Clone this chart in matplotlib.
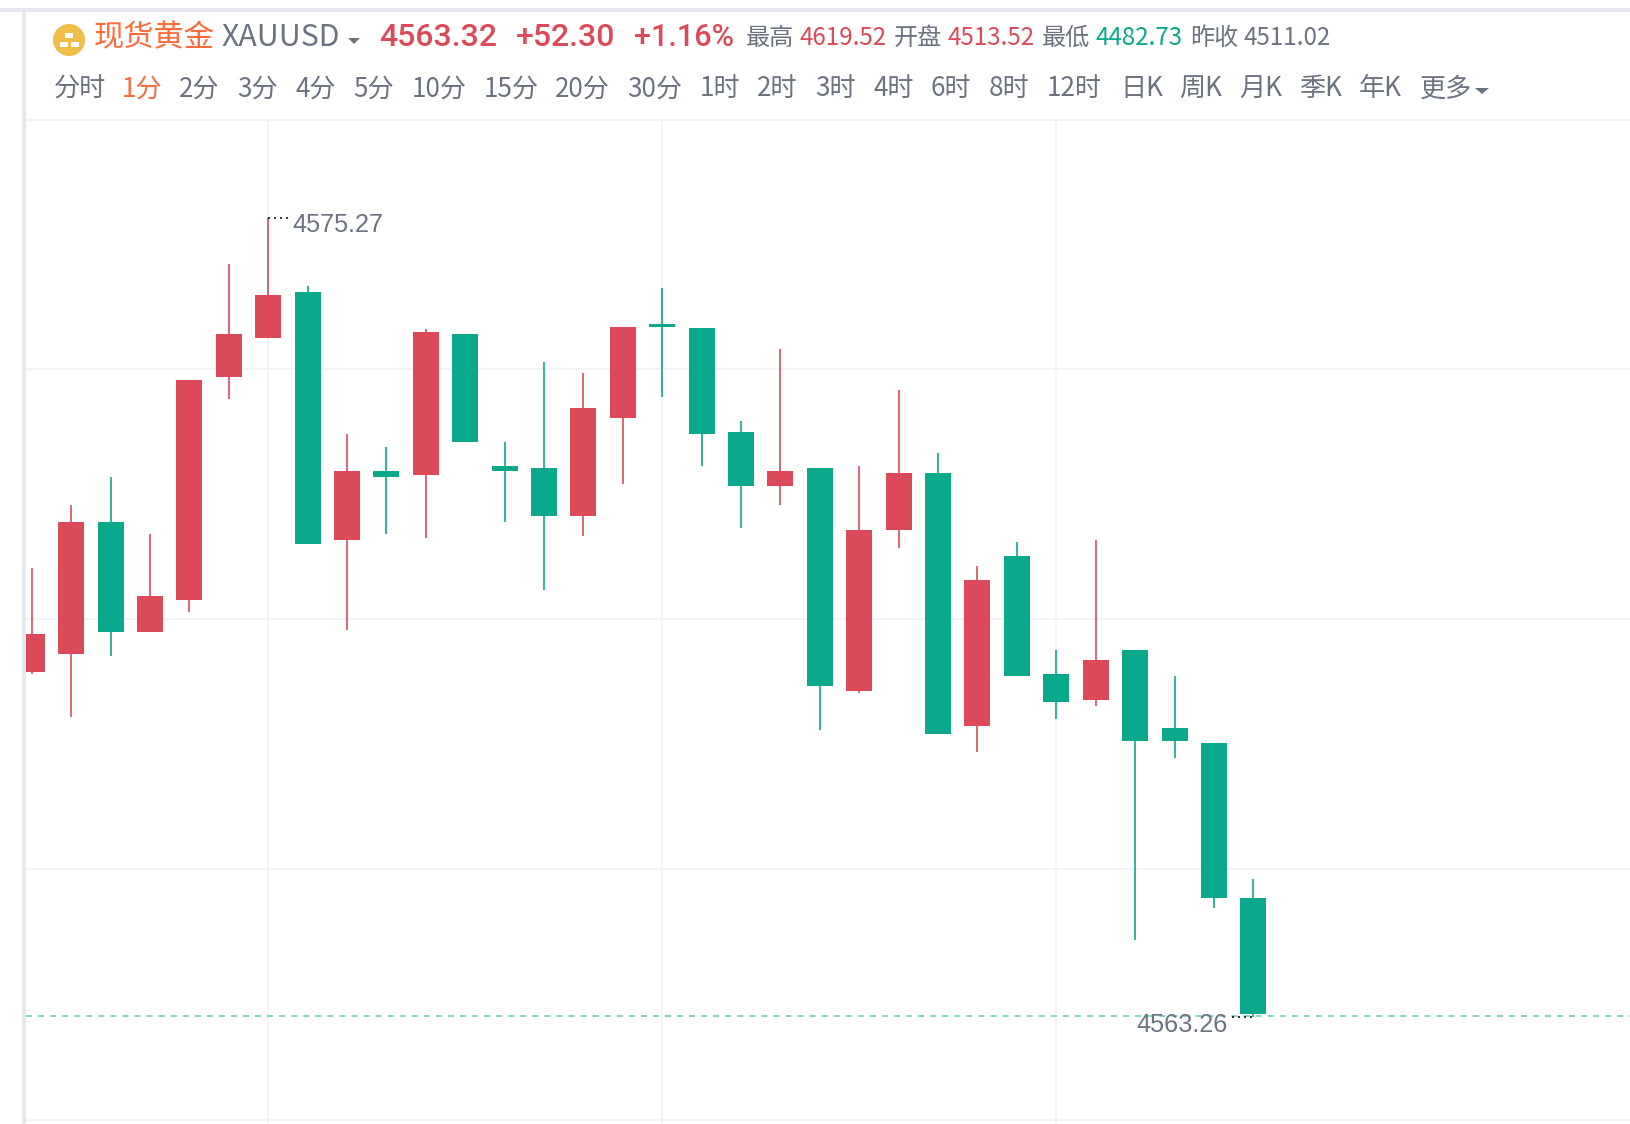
import matplotlib
matplotlib.use("Agg")
import matplotlib.pyplot as plt
from matplotlib.patches import Circle, Rectangle, Polygon

W, H = 1630, 1124
RED = "#DC4A5A"
GREEN = "#0AA98C"
GRAY = "#6B7280"
ORANGE = "#FF6B3B"
GRID = "#F2F3F7"
CJK = ["Noto Sans CJK SC", "DejaVu Sans"]
NUM = ["Roboto", "Liberation Sans", "DejaVu Sans"]

# candle data (prices)
opens = [4568.44, 4568.71, 4570.69, 4569.04, 4569.52, 4572.87, 4573.46, 4574.15,
         4570.43, 4571.47, 4571.41, 4573.52, 4571.54, 4571.51, 4570.79, 4572.26,
         4573.68, 4573.61, 4572.05, 4571.24, 4571.51, 4568.16, 4570.57, 4571.44,
         4567.63, 4570.18, 4568.41, 4568.02, 4568.77, 4567.60, 4567.38, 4565.04]
closes = [4569.01, 4570.69, 4569.04, 4569.59, 4572.83, 4573.52, 4574.11, 4570.37,
          4571.47, 4571.38, 4573.55, 4571.90, 4571.47, 4570.79, 4572.41, 4573.63,
          4573.63, 4572.02, 4571.24, 4571.47, 4568.23, 4570.57, 4571.44, 4567.51,
          4569.82, 4568.38, 4567.99, 4568.62, 4567.41, 4567.41, 4565.04, 4563.31]
highs = [4570.01, 4570.96, 4571.38, 4570.51, 4572.83, 4574.57, 4575.27, 4574.24,
         4572.02, 4571.83, 4573.60, 4573.52, 4571.90, 4573.10, 4572.94, 4573.63,
         4574.21, 4573.61, 4572.22, 4573.29, 4571.51, 4571.54, 4572.68, 4571.74,
         4570.04, 4570.40, 4568.77, 4570.43, 4568.77, 4568.38, 4567.38, 4565.34]
lows = [4568.41, 4567.76, 4568.68, 4569.04, 4569.35, 4572.55, 4573.46, 4570.37,
        4569.07, 4570.51, 4570.46, 4571.90, 4570.69, 4569.68, 4570.48, 4571.27,
        4572.58, 4571.54, 4570.60, 4570.96, 4567.57, 4568.13, 4570.30, 4567.51,
        4567.24, 4568.38, 4567.73, 4567.93, 4564.42, 4567.15, 4564.90, 4563.26]
last_price = 4563.28
high_label = "4575.27"
low_label = "4563.26"
grid_prices = [4572.99, 4569.24, 4565.49, 4561.71]
grid_candles = [6, 16, 26]

# header texts
name_cn = "现货黄金"
symbol = "XAUUSD"
quote_texts = ["4563.32", "+52.30", "+1.16%"]
stat_labels = ["最高", "开盘", "最低", "昨收"]
stat_values = ["4619.52", "4513.52", "4482.73", "4511.02"]
stat_colors = [RED, RED, GREEN, GRAY]
periods = ["分时", "1分", "2分", "3分", "4分", "5分", "10分", "15分", "20分", "30分",
           "1时", "2时", "3时", "4时", "6时", "8时", "12时", "日K", "周K", "月K",
           "季K", "年K", "更多"]
active_period = "1分"

# header layout, in pixels of the output image
quote_x = [379, 516, 634]
quote_sizes = [23, 23, 22]
stat_label_x = [746, 894, 1042, 1190]
stat_value_x = [799, 947, 1095, 1243]
period_x = [54, 122, 179, 237, 295, 353, 412, 484, 555, 627, 700, 757, 815, 873,
            931, 989, 1047, 1120, 1179, 1239, 1299, 1359, 1420]

fig = plt.figure(figsize=(W / 100, H / 100), dpi=100, facecolor="white")

# chart area
top_px, left_px = 120, 26
ax = fig.add_axes([left_px / W, 0, 1 - left_px / W, 1 - top_px / H])
ax.set_xlim(-0.148, 40.56)
ax.set_ylim(4561.651, 4576.738)
for s in ax.spines.values():
    s.set_visible(False)
ax.set_xticks(grid_candles)
ax.set_yticks(grid_prices)
ax.tick_params(length=0, labelbottom=False, labelleft=False)
ax.grid(True, color=GRID, lw=1.3)
ax.set_axisbelow(True)

xs = list(range(len(opens)))
colors = [RED if c >= o else GREEN for o, c in zip(opens, closes)]
ax.vlines(xs, lows, highs, colors=colors, lw=1.2, zorder=2)
ax.bar(xs, [abs(c - o) for o, c in zip(opens, closes)],
       bottom=[min(o, c) for o, c in zip(opens, closes)],
       width=0.66, color=colors, lw=0, zorder=3)

ax.axhline(last_price, color="#7FD5C2", lw=1.4, dashes=(3.1, 3.1), zorder=4)

# extreme markers
hi_i = highs.index(max(highs))
lo_i = lows.index(min(lows))
ax.plot([hi_i, hi_i + 0.52], [highs[hi_i]] * 2, color="#111111", lw=1.2,
        dashes=(1.2, 2.4), zorder=4)
ax.plot([lo_i - 0.55, lo_i], [lows[lo_i]] * 2, color="#111111", lw=1.2,
        dashes=(1.2, 2.4), zorder=4)
ax.annotate(high_label, (hi_i + 0.6, highs[hi_i]), xytext=(0, -5.5),
            textcoords="offset points", ha="left", va="center",
            fontsize=18.2, color=GRAY, family=["Liberation Sans"], zorder=5)
ax.annotate(low_label, (lo_i - 0.66, lows[lo_i]), xytext=(0, -6),
            textcoords="offset points", ha="right", va="center",
            fontsize=18.2, color=GRAY, family=["Liberation Sans"], zorder=5)

# page chrome and header, in pixels
ov = fig.add_axes([0, 0, 1, 1], zorder=10)
ov.set_xlim(0, W)
ov.set_ylim(H, 0)
ov.axis("off")
ov.patch.set_alpha(0)
ov.add_patch(Rectangle((0, 8), W, 4, color="#E6E8F0", lw=0))
ov.add_patch(Rectangle((22, 8), 4, H - 8, color="#E6E8F0", lw=0))
ov.add_patch(Rectangle((26, 118.5), W - 26, 2, color=GRID, lw=0))

ov.add_patch(Circle((69, 40), 16, color="#EFBE48", lw=0))
for cx, cy, bw in [(69, 35.5, 8), (63.5, 44, 8), (74.5, 44, 8)]:
    ov.add_patch(Rectangle((cx - bw / 2, cy - 2.5), bw, 5, color="white", lw=0))

ov.text(94, 38, name_cn, color=ORANGE, fontsize=21.8, family=CJK, va="center")
ov.text(221, 38, symbol, color=GRAY, fontsize=21.8, family=CJK, va="center")
ov.add_patch(Polygon([(348, 38), (360, 38), (354, 44)], color=GRAY, lw=0))
for x, t, fs in zip(quote_x, quote_texts, quote_sizes):
    ov.text(x, 38, t, color=RED, fontsize=fs, family=NUM, weight="medium", va="center")
for x, t in zip(stat_label_x, stat_labels):
    ov.text(x, 38, t, color=GRAY, fontsize=17.4, family=CJK, va="center")
for x, t, c in zip(stat_value_x, stat_values, stat_colors):
    ov.text(x, 38, t, color=c, fontsize=17.4, family=CJK, va="center")
for x, t in zip(period_x, periods):
    ov.text(x, 89, t, color=ORANGE if t == active_period else GRAY,
            fontsize=18.8, family=CJK, va="center")
ov.add_patch(Polygon([(1475, 88), (1489, 88), (1482, 94)], color=GRAY, lw=0))

fig.savefig("out.png", dpi=100, facecolor="white")
